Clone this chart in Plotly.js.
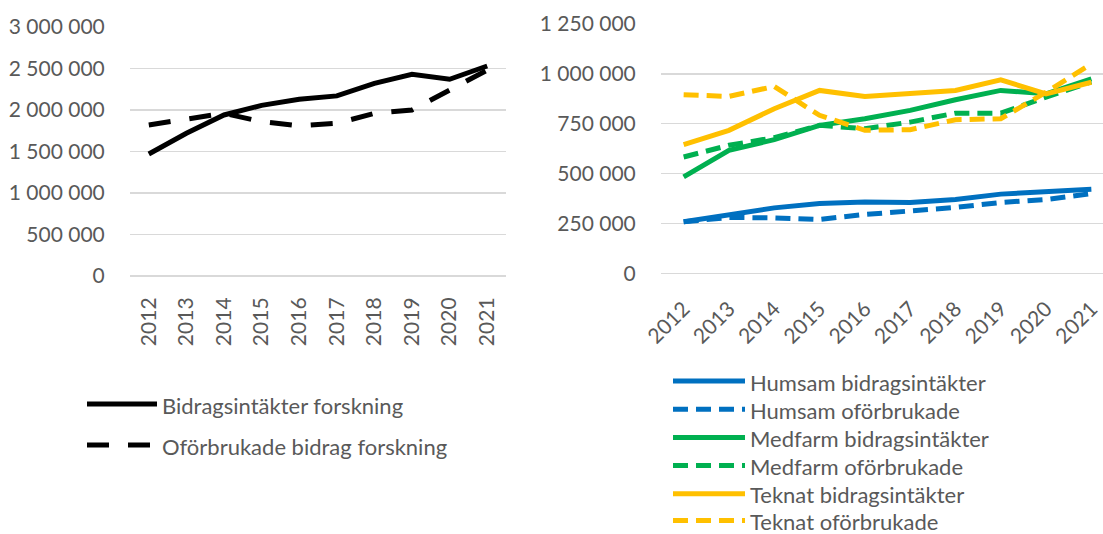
<!DOCTYPE html>
<html>
<head>
<meta charset="utf-8">
<script src="https://cdn.plot.ly/plotly-3.0.1.min.js"></script>
<style>html,body{margin:0;padding:0;background:#fff;}#chart{width:1103px;height:534px;}</style>
</head>
<body>
<div id="chart"></div>
<script>
// ---- Data ----
const years = ['2012','2013','2014','2015','2016','2017','2018','2019','2020','2021'];

const leftNames = ['Bidragsintäkter forskning', 'Oförbrukade bidrag forskning'];
const totalIncome = [1470000,1720000,1940000,2056000,2130000,2170000,2320000,2430000,2370000,2530000];
const totalUnused = [1820000,1895000,1960000,1860000,1810000,1840000,1960000,2000000,2240000,2480000];

const rightNames = ['Humsam bidragsintäkter','Humsam oförbrukade','Medfarm bidragsintäkter','Medfarm oförbrukade','Teknat bidragsintäkter','Teknat oförbrukade'];
const humsamIncome  = [258000,291000,328000,350000,358000,355000,370000,397000,408000,422000];
const humsamUnused  = [258000,280000,278000,270000,295000,310000,330000,355000,370000,400000];
const medfarmIncome = [483000,617000,670000,742000,775000,817000,870000,917000,900000,975000];
const medfarmUnused = [583000,642000,680000,742000,725000,758000,803000,803000,883000,960000];
const teknatIncome  = [645000,717000,825000,917000,887000,900000,917000,970000,900000,958000];
const teknatUnused  = [895000,887000,937000,792000,717000,720000,770000,775000,908000,1050000];

const leftTickVals = [0,500000,1000000,1500000,2000000,2500000,3000000];
const leftTickText = ['0','500 000','1 000 000','1 500 000','2 000 000','2 500 000','3 000 000'];
const rightTickVals = [0,250000,500000,750000,1000000,1250000];
const rightTickText = ['0','250 000','500 000','750 000','1 000 000','1 250 000'];

// ---- Styles ----
const W = 1103, H = 534;
const FONT = 'Lato, "Open Sans", sans-serif';
const TXT = '#595959';
const BLUE = '#0070C0', GREEN = '#00B050', YELLOW = '#FFC000', BLACK = '#000000';
const leftDash = '22px,19px';
const rightDash = '15px,8px';

const leftStyles = [
  {color: BLACK, dash: 'solid'},
  {color: BLACK, dash: leftDash}
];
const rightStyles = [
  {color: BLUE, dash: 'solid'}, {color: BLUE, dash: rightDash},
  {color: GREEN, dash: 'solid'}, {color: GREEN, dash: rightDash},
  {color: YELLOW, dash: 'solid'}, {color: YELLOW, dash: rightDash}
];

const leftSeries = [totalIncome, totalUnused];
const rightSeries = [humsamIncome, humsamUnused, medfarmIncome, medfarmUnused, teknatIncome, teknatUnused];

const traces = [];
leftSeries.forEach((s, i) => traces.push({
  type: 'scatter', mode: 'lines', x: years, y: s, name: leftNames[i],
  xaxis: 'x', yaxis: 'y', showlegend: false,
  line: {color: leftStyles[i].color, width: 5, dash: leftStyles[i].dash}
}));
rightSeries.forEach((s, i) => traces.push({
  type: 'scatter', mode: 'lines', x: years, y: s, name: rightNames[i],
  xaxis: 'x2', yaxis: 'y2', showlegend: false,
  line: {color: rightStyles[i].color, width: 5, dash: rightStyles[i].dash}
}));

// px -> paper helpers
const px = x => x / W;
const py = y => 1 - y / H;

// ---- Custom legends (drawn from the name arrays) ----
const shapes = [], annotations = [];
function addLegend(names, styles, x0, x1, tx, rowYs, fs) {
  names.forEach((n, i) => {
    const y = rowYs[i];
    shapes.push({type: 'line', xref: 'paper', yref: 'paper',
      x0: px(x0), x1: px(x1), y0: py(y), y1: py(y),
      line: {color: styles[i].color, width: 5, dash: styles[i].dash}});
    annotations.push({xref: 'paper', yref: 'paper', x: px(tx), y: py(y + 1),
      xanchor: 'left', yanchor: 'middle', showarrow: false, text: n, borderpad: 0,
      font: {family: FONT, size: fs, color: TXT}});
  });
}
addLegend(leftNames, leftStyles, 87, 157, 161, [404, 445], 22);
addLegend(rightNames, rightStyles, 673, 745, 749, [381, 409.2, 437.4, 465.6, 493.8, 520.5], 22);

const tickFont = {family: FONT, size: 21, color: TXT};
const gridCol = '#D9D9D9';

const layout = {
  width: W, height: H,
  margin: {l: 0, r: 0, t: 0, b: 0},
  paper_bgcolor: '#fff', plot_bgcolor: '#fff',
  showlegend: false,
  xaxis: {
    domain: [px(130), px(506)], anchor: 'y', type: 'category',
    range: [-0.5, 9.5], showgrid: false, zeroline: false, showline: false,
    tickangle: -90, ticks: 'outside', ticklen: 12, tickcolor: 'rgba(0,0,0,0)',
    tickfont: tickFont, fixedrange: true
  },
  yaxis: {
    domain: [1 - 276/H, 1 - 27/H], anchor: 'x',
    range: [0, 3000000], tickmode: 'array', tickvals: leftTickVals, ticktext: leftTickText,
    showgrid: true, gridcolor: gridCol, gridwidth: 1.3, zeroline: true, zerolinecolor: gridCol, zerolinewidth: 1.3,
    showline: false, ticks: 'outside', ticklen: 20, tickcolor: 'rgba(0,0,0,0)',
    tickfont: tickFont, fixedrange: true
  },
  xaxis2: {
    domain: [px(661), 1], anchor: 'y2', type: 'category',
    range: [-0.5, 9.257], showgrid: false, zeroline: false, showline: false,
    tickangle: -45, ticks: 'outside', ticklen: 14, tickcolor: 'rgba(0,0,0,0)',
    tickfont: tickFont, fixedrange: true
  },
  yaxis2: {
    domain: [1 - 273.3/H, 1 - 24/H], anchor: 'x2',
    range: [0, 1250000], tickmode: 'array', tickvals: rightTickVals, ticktext: rightTickText,
    showgrid: true, gridcolor: gridCol, gridwidth: 1.3, zeroline: true, zerolinecolor: gridCol, zerolinewidth: 1.3,
    showline: false, ticks: 'outside', ticklen: 20, tickcolor: 'rgba(0,0,0,0)',
    tickfont: tickFont, fixedrange: true
  },
  shapes: shapes,
  annotations: annotations
};

Plotly.newPlot('chart', traces, layout, {displayModeBar: false, staticPlot: true});
</script>
</body>
</html>
